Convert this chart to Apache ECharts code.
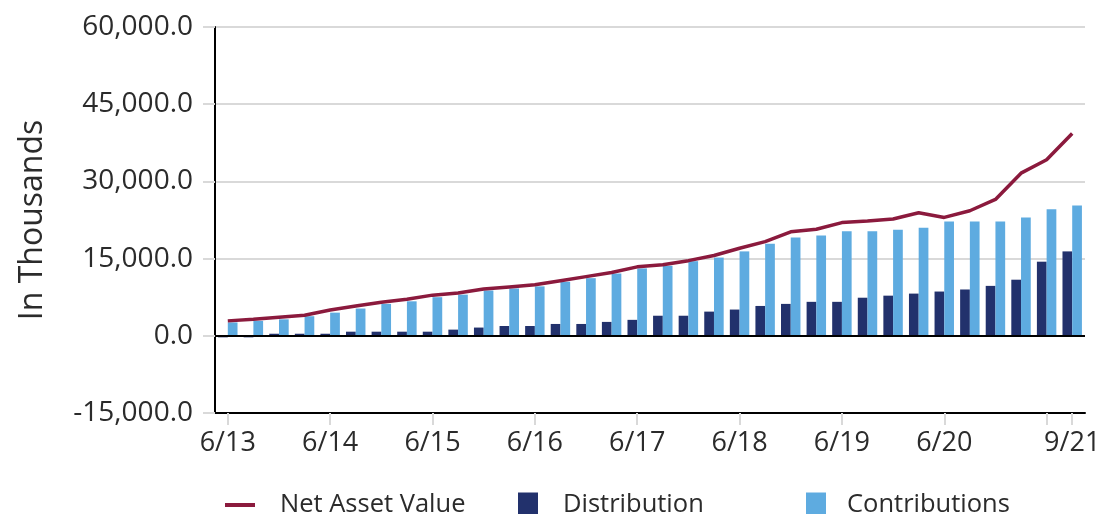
<!DOCTYPE html>
<html>
<head>
<meta charset="utf-8">
<script src="https://cdn.jsdelivr.net/npm/echarts@6/dist/echarts.min.js"></script>
<style>
  html, body { margin: 0; padding: 0; background: #fff; }
  #chart { width: 1104px; height: 514px; }
</style>
</head>
<body>
<div id="chart"></div>
<script>
// Quarter-end dates, June 2013 through September 2021
const quarters = [
  '6/13', '9/13', '12/13', '3/14', '6/14', '9/14', '12/14', '3/15',
  '6/15', '9/15', '12/15', '3/16', '6/16', '9/16', '12/16', '3/17',
  '6/17', '9/17', '12/17', '3/18', '6/18', '9/18', '12/18', '3/19',
  '6/19', '9/19', '12/19', '3/20', '6/20', '9/20', '12/20', '3/21',
  '6/21', '9/21'
];

// Values in thousands
const netAssetValue = [
  2900, 3200, 3600, 4000, 5000, 5800, 6500, 7100,
  7900, 8300, 9100, 9500, 9900, 10700, 11500, 12300,
  13400, 13800, 14600, 15600, 17000, 18300, 20200, 20700,
  22000, 22300, 22700, 23900, 23000, 24300, 26500, 31600,
  34200, 39300
];

const distribution = [
  -300, -300, 400, 400, 400, 800, 800, 800,
  800, 1200, 1600, 1900, 1900, 2300, 2300, 2700,
  3100, 3900, 3900, 4700, 5100, 5800, 6200, 6600,
  6600, 7400, 7800, 8200, 8600, 9000, 9700, 10900,
  14400, 16400
];

const contributions = [
  2600, 2900, 3200, 3800, 4500, 5300, 6200, 6700,
  7500, 8000, 8800, 9200, 9600, 10500, 11200, 12100,
  13100, 13600, 14500, 15200, 16400, 17900, 19100, 19500,
  20300, 20300, 20600, 21000, 22200, 22200, 22200, 23000,
  24600, 25300
];

const yTicks = { min: -15000, max: 60000, step: 15000 };

const FONT = '"Open Sans", "Noto Sans", sans-serif';
const TEXT = '#2b2b2b';
const NAV_COLOR = '#8B1A3D';
const DIST_COLOR = '#22316C';
const CONTRIB_COLOR = '#5EABE0';

const last = quarters.length - 1;

function fmt(v) {
  const s = Math.abs(v).toFixed(1);
  const parts = s.split('.');
  parts[0] = parts[0].replace(/\B(?=(\d{3})+(?!\d))/g, ',');
  return (v < 0 ? '-' : '') + parts.join('.');
}

function legendText(gap) {
  return { fontFamily: FONT, fontSize: 25.5, color: TEXT, padding: [0, 0, 0, gap] };
}

const chart = echarts.init(document.getElementById('chart'), null, { renderer: 'canvas' });

chart.setOption({
  animation: false,
  backgroundColor: '#ffffff',
  grid: { left: 215, right: 19, top: 27, bottom: 101, containLabel: false },
  legend: [
    {
      left: 220, top: 487,
      data: [{ name: 'Net Asset Value', icon: 'rect' }],
      itemWidth: 30, itemHeight: 4,
      textStyle: legendText(20)
    },
    {
      left: 513, top: 487,
      data: [{ name: 'Distribution', icon: 'rect' }],
      itemWidth: 20, itemHeight: 25,
      textStyle: legendText(20)
    },
    {
      left: 801, top: 487,
      data: [{ name: 'Contributions', icon: 'rect' }],
      itemWidth: 20, itemHeight: 25,
      textStyle: legendText(16)
    }
  ],
  xAxis: {
    type: 'category',
    data: quarters,
    boundaryGap: true,
    axisLine: { show: true, onZero: false, lineStyle: { color: '#000', width: 2 } },
    axisTick: {
      show: true,
      alignWithLabel: true,
      length: 12,
      interval: (i) => i % 4 === 0 || i === last,
      lineStyle: { color: '#d9d9d9', width: 2 }
    },
    axisLabel: {
      interval: (i) => (i % 4 === 0 && i !== last - 1) || i === last,
      margin: 17,
      fontFamily: FONT,
      fontSize: 27,
      color: TEXT
    },
    splitLine: { show: false }
  },
  yAxis: {
    type: 'value',
    min: yTicks.min,
    max: yTicks.max,
    interval: yTicks.step,
    name: 'In Thousands',
    nameLocation: 'middle',
    nameRotate: 90,
    nameGap: 166,
    nameTextStyle: { fontFamily: FONT, fontSize: 32, color: TEXT },
    axisLine: { show: true, onZero: false, lineStyle: { color: '#000', width: 2 } },
    axisTick: { show: true, length: 12, lineStyle: { color: '#d9d9d9', width: 2 } },
    axisLabel: {
      margin: 22,
      fontFamily: FONT,
      fontSize: 28,
      color: TEXT,
      formatter: (v) => fmt(v)
    },
    splitLine: { show: true, lineStyle: { color: '#d9d9d9', width: 2 } }
  },
  series: [
    {
      name: 'Distribution',
      type: 'bar',
      data: distribution,
      itemStyle: { color: DIST_COLOR },
      barGap: '0%',
      barCategoryGap: '24%',
      markLine: {
        silent: true,
        symbol: 'none',
        label: { show: false },
        lineStyle: { color: '#000', width: 2, type: 'solid' },
        data: [{ yAxis: 0 }]
      }
    },
    {
      name: 'Contributions',
      type: 'bar',
      data: contributions,
      itemStyle: { color: CONTRIB_COLOR },
      barGap: '0%',
      barCategoryGap: '24%'
    },
    {
      name: 'Net Asset Value',
      type: 'line',
      data: netAssetValue,
      symbol: 'none',
      smooth: false,
      z: 5,
      lineStyle: { color: NAV_COLOR, width: 3.5 },
      itemStyle: { color: NAV_COLOR }
    }
  ]
});
</script>
</body>
</html>
